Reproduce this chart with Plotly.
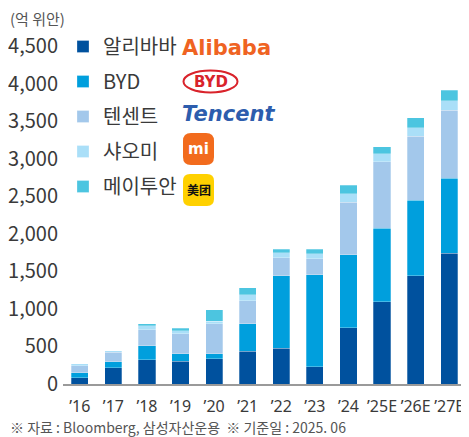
import plotly.graph_objects as go

years = ["’16", "’17", "’18", "’19", "’20", "’21", "’22", "’23", "’24", "’25E", "’26E", "’27E"]
alibaba = [84, 218, 324, 302, 338, 436, 476, 231, 751, 1097, 1444, 1742]
byd = [63, 80, 183, 102, 66, 368, 968, 1222, 969, 979, 1000, 996]
tencent = [97, 125, 217, 267, 400, 307, 240, 214, 697, 880, 854, 906]
xiaomi = [23, 17, 54, 40, 32, 76, 63, 66, 116, 111, 111, 125]
meituan = [3, 5, 22, 31, 155, 93, 49, 63, 111, 89, 138, 142]

names = ["알리바바", "BYD", "텐센트", "샤오미", "메이투안"]
colors = ["#00519e", "#009fdd", "#a3c8eb", "#aadff8", "#4cc5e0"]
series = [alibaba, byd, tencent, xiaomi, meituan]

# page has an 8px body margin; figure is sized to fill the rest of the view
OFF = 8
W_FIG, H_FIG = 469 - OFF, 437 - OFF
L, R, T, B = 63 - OFF, 3, 46 - OFF, 53
PW = W_FIG - L - R
PH = H_FIG - T - B


def PX(px):  # screen px -> paper
    return (px - OFF - L) / PW


def PY(py):
    return (H_FIG - B - (py - OFF)) / PH


FONT = "Noto Sans CJK KR"
TXT = "#3a3a3a"

fig = go.Figure()
for i, (nm, col, vals) in enumerate(zip(names, colors, series)):
    fig.add_trace(go.Bar(
        x=years, y=vals, name=nm, legendgroup=f"g{i}",
        marker=dict(color=col, line=dict(color="rgba(255,255,255,0.45)", width=0.6)),
    ))


def rrect(x0, y0, x1, y1, r):
    a, b, c, d = PX(x0), PX(x1), PY(y0), PY(y1)
    rx, ry = r / PW, r / PH
    return (f"M{a+rx},{c} L{b-rx},{c} Q{b},{c} {b},{c-ry} L{b},{d+ry} Q{b},{d} {b-rx},{d} "
            f"L{a+rx},{d} Q{a},{d} {a},{d+ry} L{a},{c-ry} Q{a},{c} {a+rx},{c} Z")


shapes = [
    dict(type="circle", xref="paper", yref="paper", x0=PX(183.5), x1=PX(237.5), y0=PY(92.5), y1=PY(70.5),
         line=dict(color="#d9232b", width=2), fillcolor="rgba(0,0,0,0)"),
    dict(type="path", xref="paper", yref="paper", path=rrect(183, 133, 214, 165, 8),
         fillcolor="#f26b1d", line=dict(width=0)),
    dict(type="path", xref="paper", yref="paper", path=rrect(183, 174, 214, 206, 7),
         fillcolor="#ffd100", line=dict(width=0)),
]

annotations = [
    dict(text="(억 위안)", x=PX(8), y=PY(18), xref="paper", yref="paper", xanchor="left", yanchor="middle",
         showarrow=False, font=dict(family=FONT, size=15, color="#555")),
    dict(text="※ 자료 : Bloomberg, 삼성자산운용  ※ 기준일 : 2025. 06", x=PX(8), y=PY(427),
         xref="paper", yref="paper", xanchor="left", yanchor="middle", showarrow=False,
         font=dict(family=FONT, size=14, color="#555")),
    dict(text="<b>Alibaba</b>", x=PX(180), y=PY(48), xref="paper", yref="paper", xanchor="left", yanchor="middle",
         showarrow=False, font=dict(family="DejaVu Sans", size=21, color="#ef6322")),
    dict(text="<b>BYD</b>", x=PX(210.5), y=PY(81.5), xref="paper", yref="paper", xanchor="center", yanchor="middle",
         showarrow=False, font=dict(family="DejaVu Sans", size=15, color="#d9232b")),
    dict(text="<b><i>Tencent</i></b>", x=PX(180), y=PY(114), xref="paper", yref="paper", xanchor="left",
         yanchor="middle", showarrow=False, font=dict(family="DejaVu Sans", size=21, color="#2d5dad")),
    dict(text="<b>mi</b>", x=PX(198.5), y=PY(149), xref="paper", yref="paper", xanchor="center",
         yanchor="middle", showarrow=False, font=dict(family="DejaVu Sans", size=15, color="white")),
    dict(text="<b>美团</b>", x=PX(198.5), y=PY(190), xref="paper", yref="paper", xanchor="center",
         yanchor="middle", showarrow=False, font=dict(family="Noto Sans CJK SC", size=12, color="#111")),
]

fig.update_layout(
    width=W_FIG, height=H_FIG,
    margin=dict(l=L, r=R, t=T, b=B, pad=0, autoexpand=False),
    barmode="stack", bargap=0.49,
    paper_bgcolor="white", plot_bgcolor="white",
    font=dict(family=FONT, color=TXT),
    showlegend=True,
    legend=dict(x=PX(63), y=PY(27), xanchor="left", yanchor="top", traceorder="grouped",
                tracegroupgap=6, itemwidth=30, bgcolor="rgba(0,0,0,0)",
                font=dict(family=FONT, size=20, color=TXT)),
    xaxis=dict(showgrid=False, showline=True, linecolor="#9a9a9a", linewidth=2, ticks="",
               tickangle=0, automargin=False, ticklabelstandoff=7,
               tickfont=dict(family="Noto Sans", size=16, color=TXT)),
    yaxis=dict(range=[0, 4500], tickvals=[0, 500, 1000, 1500, 2000, 2500, 3000, 3500, 4000, 4500],
               tickformat=",", showgrid=False, zeroline=False, showline=False, ticks="", automargin=False,
               ticklabelstandoff=4,
               tickfont=dict(family=FONT, size=20, color=TXT)),
    shapes=shapes, annotations=annotations,
)

fig.write_html("out.html")
